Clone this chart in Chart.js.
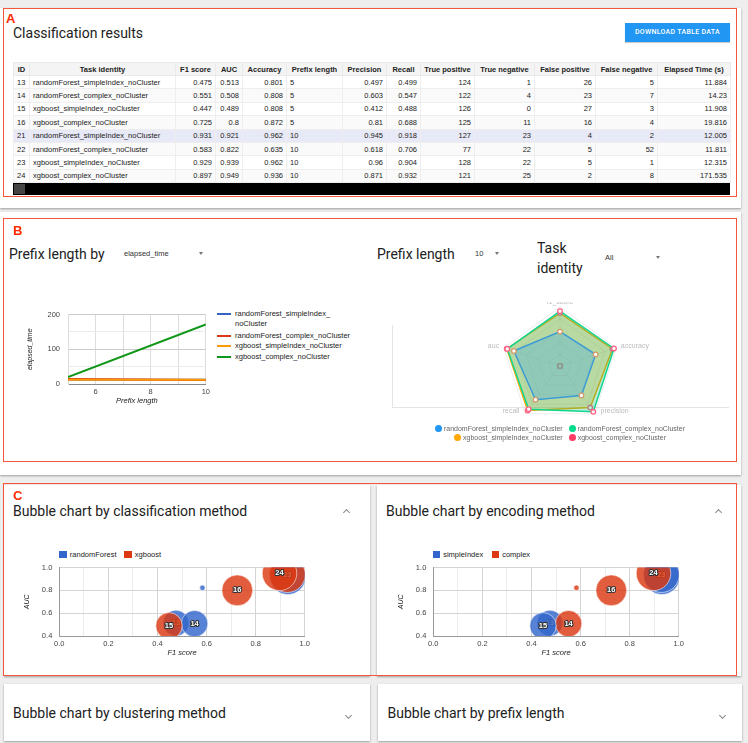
<!DOCTYPE html>
<html>
<head>
<meta charset="utf-8">
<script src="https://cdn.jsdelivr.net/npm/chart.js@4.4.1/dist/chart.umd.min.js"></script>
<style>
  html, body { margin: 0; padding: 0; }
  body { width: 748px; height: 743px; background: #eeeeee; position: relative; overflow: hidden; font-family: Roboto, Arial, sans-serif; }
  .card { position: absolute; background: #fff; box-shadow: 0 1px 2px rgba(0, 0, 0, .35); }
  .mark { position: absolute; border: 1.5px solid #f4563a; box-sizing: border-box; pointer-events: none; z-index: 5; }
  .tag { position: absolute; color: #ff2a00; font: bold 13px Arial, sans-serif; line-height: 1; z-index: 6; }
  .title { position: absolute; font-size: 14px; color: #212121; white-space: nowrap; line-height: 1; }
  .sel { position: absolute; font: 7.5px Arial, sans-serif; color: #333; line-height: 1; white-space: nowrap; }
  .caret { position: absolute; width: 0; height: 0; border-left: 2.5px solid transparent; border-right: 2.5px solid transparent; border-top: 3px solid #777; }
  .chev { position: absolute; width: 4px; height: 4px; border-left: 1px solid #888; border-top: 1px solid #888; }
  .up { transform: rotate(45deg); }
  .down { transform: rotate(225deg); }
  .btn { position: absolute; left: 625px; top: 23px; width: 105px; height: 19px; background: #2196f3; color: #fff; font: 500 7px Roboto, Arial, sans-serif; letter-spacing: .3px; line-height: 19px; text-align: center; box-shadow: 0 1px 1px rgba(0,0,0,.2); }
  #tbl { position: absolute; left: 13px; top: 62px; width: 717px; border-collapse: collapse; table-layout: fixed; font: 7.5px Arial, sans-serif; color: #222; }
  #tbl th { background: #f4f4f4; font-weight: bold; text-align: center; padding: 0; border: 1px solid #eaeaea; white-space: nowrap; }
  #tbl td { padding: 0 3px; text-align: right; border: 1px solid #eeeeee; white-space: nowrap; overflow: hidden; }
  #tbl tr.head { height: 13px; }
  #tbl tr.row { height: 13.4px; background: #fff; }
  #tbl tr.alt { background: #fafafa; }
  #tbl tr.pick { background: #e8e9f6; }
  #tbl td.l { text-align: left; }
  .box { position: absolute; }
  .lg { position: absolute; font: 7.5px Arial, sans-serif; color: #222; line-height: 1; white-space: nowrap; }
  #radarLegend { position: absolute; left: 392px; top: 425px; width: 336px; font: 7px Arial, sans-serif; color: #666; text-align: center; line-height: 8.7px; }
  #radarLegend span.it { display: inline-block; margin: 0 3px; white-space: nowrap; }
  #radarLegend span.dot { display: inline-block; width: 7px; height: 7px; border-radius: 50%; margin-right: 2px; vertical-align: -1px; }
</style>
</head>
<body>

<!-- A -->
<div class="card" style="left:0;top:8px;width:741px;height:200px"></div>
<div class="title" style="left:13px;top:25.5px">Classification results</div>
<div class="btn">DOWNLOAD TABLE DATA</div>
<table id="tbl"></table>
<div class="box" style="left:13px;top:183px;width:717px;height:12px;background:#000"></div>
<div class="box" style="left:14px;top:184px;width:11px;height:10px;background:#444"></div>
<div class="mark" style="left:3px;top:8px;width:734px;height:189px"></div>
<div class="tag" style="left:6px;top:12px">A</div>

<!-- B -->
<div class="card" style="left:0;top:212px;width:741px;height:263px"></div>
<div class="title" style="left:9px;top:247px">Prefix length by</div>
<div class="sel" style="left:124px;top:250px">elapsed_time</div>
<div class="caret" style="left:199px;top:252px"></div>
<div class="box" style="left:18px;top:302px;width:195px;height:108px"><canvas id="lineChart"></canvas></div>
<div id="lineLegend"></div>

<div class="title" style="left:377px;top:247px">Prefix length</div>
<div class="sel" style="left:475px;top:250px">10</div>
<div class="caret" style="left:495px;top:252px"></div>
<div class="title" style="left:537px;top:240.5px">Task</div>
<div class="title" style="left:537px;top:260.5px">identity</div>
<div class="sel" style="left:605px;top:253.5px">All</div>
<div class="caret" style="left:656px;top:255.5px"></div>
<div class="box" style="left:392px;top:325px;width:336px;height:82px;border-left:1.5px solid #e4e4e4;border-bottom:1.5px solid #e4e4e4"></div>
<div class="box" style="left:392px;top:302px;width:336px;height:134px;overflow:hidden">
  <div class="box" style="left:0;top:-7px;width:336px;height:142px"><canvas id="radarChart"></canvas></div>
</div>
<div id="radarLegend"></div>
<div class="mark" style="left:3px;top:218px;width:734px;height:244px"></div>
<div class="tag" style="left:13px;top:224px">B</div>

<!-- C -->
<div class="card" style="left:4px;top:485px;width:366px;height:191px"></div>
<div class="card" style="left:377px;top:485px;width:364px;height:191px"></div>
<div class="title" style="left:13px;top:504px">Bubble chart by classification method</div>
<div class="chev up" style="left:344px;top:510px"></div>
<div class="title" style="left:386px;top:504px">Bubble chart by encoding method</div>
<div class="chev up" style="left:716px;top:510px"></div>
<div id="legend1"></div>
<div id="legend2"></div>
<div class="box" style="left:20px;top:556px;width:293px;height:102px"><canvas id="bubble1"></canvas></div>
<div class="box" style="left:394px;top:556px;width:293px;height:102px"><canvas id="bubble2"></canvas></div>
<div class="mark" style="left:3px;top:483px;width:734px;height:193px"></div>
<div class="tag" style="left:13px;top:488.5px">C</div>

<!-- bottom cards -->
<div class="card" style="left:4px;top:684px;width:366px;height:57px"></div>
<div class="card" style="left:378px;top:684px;width:364px;height:57px"></div>
<div class="title" style="left:13px;top:705.5px">Bubble chart by clustering method</div>
<div class="chev down" style="left:346px;top:713px"></div>
<div class="title" style="left:387.5px;top:705.5px">Bubble chart by prefix length</div>
<div class="chev down" style="left:720px;top:713px"></div>

<script>
// 表格資料
const ids = [13, 14, 15, 16, 21, 22, 23, 24];
const tasks = [
  "randomForest_simpleIndex_noCluster", "randomForest_complex_noCluster",
  "xgboost_simpleIndex_noCluster", "xgboost_complex_noCluster",
  "randomForest_simpleIndex_noCluster", "randomForest_complex_noCluster",
  "xgboost_simpleIndex_noCluster", "xgboost_complex_noCluster"
];
const f1 = [0.475, 0.551, 0.447, 0.725, 0.931, 0.583, 0.929, 0.897];
const auc = [0.513, 0.508, 0.489, 0.8, 0.921, 0.822, 0.939, 0.949];
const accuracy = [0.801, 0.808, 0.808, 0.872, 0.962, 0.635, 0.962, 0.936];
const prefixLen = [5, 5, 5, 5, 10, 10, 10, 10];
const precision = [0.497, 0.603, 0.412, 0.81, 0.945, 0.618, 0.96, 0.871];
const recall = [0.499, 0.547, 0.488, 0.688, 0.918, 0.706, 0.904, 0.932];
const truePos = [124, 122, 126, 125, 127, 77, 128, 121];
const trueNeg = [1, 4, 0, 11, 23, 22, 22, 25];
const falsePos = [26, 23, 27, 16, 4, 5, 5, 2];
const falseNeg = [5, 7, 3, 4, 2, 52, 1, 8];
const elapsed = [11.884, 14.23, 11.908, 19.816, 12.005, 11.811, 12.315, 171.535];

const headers = ["ID", "Task identity", "F1 score", "AUC", "Accuracy", "Prefix length", "Precision", "Recall",
  "True positive", "True negative", "False positive", "False negative", "Elapsed Time (s)"];
const colWidths = [16, 146, 40, 27, 44, 56, 44, 34, 54, 60, 61, 62, 73];

// 雷達圖資料 (prefix length 10)
const radarAxes = ["f1_score", "accuracy", "precision", "recall", "auc"];
const radarNames = ["randomForest_simpleIndex_noCluster", "randomForest_complex_noCluster",
  "xgboost_simpleIndex_noCluster", "xgboost_complex_noCluster"];
const radarRfSimple = [0.583, 0.635, 0.618, 0.706, 0.822];
const radarRfComplex = [0.929, 0.962, 0.96, 0.904, 0.939];
const radarXgbSimple = [0.897, 0.936, 0.871, 0.932, 0.949];
const radarXgbComplex = [0, 0, 0, 0, 0];

// tick labels
const lineYTicks = [0, 100, 200];
const lineXTicks = [6, 8, 10];
const bubbleXTicks = [0, 0.2, 0.4, 0.6, 0.8, 1.0];
const bubbleYTicks = [0.4, 0.6, 0.8, 1.0];

Chart.defaults.font.family = 'Arial, "Liberation Sans", sans-serif';
Chart.defaults.animation = false;

// table
let html = `<colgroup>${colWidths.map(w => `<col style="width:${w}px">`).join("")}</colgroup>`;
html += `<tr class="head">${headers.map(h => `<th>${h}</th>`).join("")}</tr>`;
for (let i = 0; i < ids.length; i++) {
  const cls = "row" + (i % 2 ? " alt" : "") + (ids[i] === 21 ? " pick" : "");
  html += `
  <tr class="${cls}">
    <td class="l">${ids[i]}</td>
    <td class="l">${tasks[i]}</td>
    <td>${f1[i]}</td>
    <td>${auc[i]}</td>
    <td>${accuracy[i]}</td>
    <td class="l">${prefixLen[i]}</td>
    <td>${precision[i]}</td>
    <td>${recall[i]}</td>
    <td>${truePos[i]}</td>
    <td>${trueNeg[i]}</td>
    <td>${falsePos[i]}</td>
    <td>${falseNeg[i]}</td>
    <td>${elapsed[i]}</td>
  </tr>`;
}
document.getElementById("tbl").innerHTML = html;

// line chart: prefix length by elapsed_time
const lineNames = ["randomForest_simpleIndex_noCluster", "randomForest_complex_noCluster",
  "xgboost_simpleIndex_noCluster", "xgboost_complex_noCluster"];
const lineColors = ["#3366cc", "#dc3912", "#ff9900", "#109618"];
const lineSets = lineNames.map((name, k) => {
  const pts = [];
  for (let i = 0; i < tasks.length; i++) {
    if (tasks[i] === name) pts.push({ x: prefixLen[i], y: elapsed[i] });
  }
  // 後面的 series 畫在上層
  return { label: name, data: pts, order: lineNames.length - k, borderColor: lineColors[k], borderWidth: 2, pointRadius: 0, fill: false };
});

new Chart(document.getElementById("lineChart"), {
  type: "line",
  data: { datasets: lineSets },
  options: {
    responsive: true, maintainAspectRatio: false,
    layout: { padding: { top: 10, right: 2 }, autoPadding: false },
    plugins: { legend: { display: false }, tooltip: { enabled: false } },
    scales: {
      x: {
        type: "linear", min: 5, max: 10,
        afterFit: s => { s.height = 26; },
        ticks: { stepSize: 1, padding: 3, color: "#444", font: { size: 7.5 },
          callback: v => lineXTicks.includes(v) ? v : "" },
        grid: { color: "#dddddd", drawTicks: false },
        border: { color: "#888888" },
        title: { display: true, text: "Prefix length", color: "#222", font: { size: 7.5, style: "italic" }, padding: { bottom: 5 } }
      },
      y: {
        min: 0, max: 200,
        afterFit: s => { s.width = 50; },
        ticks: { stepSize: 50, padding: 8, color: "#444", font: { size: 7.5 },
          callback: v => lineYTicks.includes(v) ? v : "" },
        grid: { color: c => c.tick.value % 100 === 0 ? "#cccccc" : "#ebebeb", drawTicks: false },
        border: { color: "#dddddd" },
        title: { display: true, text: "elapsed_time", color: "#222", font: { size: 7, style: "italic" }, padding: { top: 7.5 } }
      }
    }
  }
});

// line legend (google 風格, 右側)
const lineLegendPos = [314, 335.7, 346.3, 357.3];
let lg = "";
for (let k = 0; k < lineNames.length; k++) {
  const y = lineLegendPos[k];
  lg += `<i style="left:217px;top:${y - 1}px;width:14px;height:2px;background:${lineColors[k]};position:absolute"></i>`;
  const txt = k === 0 ? "randomForest_simpleIndex_<br>noCluster" : lineNames[k];
  lg += `<div class="lg" style="left:235px;top:${y - 4}px;line-height:10.3px;margin-top:-1px">${txt}</div>`;
}
document.getElementById("lineLegend").innerHTML = lg;

// radar chart
const radarColors = ["#3d9bd6", "#12d690", "#ffa500", "#ff5c7c"];
const radarDots = ["#2196f3", "#00dc8c", "#ffa800", "#ff3c64"];
const radarFills = ["rgba(54,162,235,0.3)", "rgba(0,190,120,0.28)", "rgba(255,170,0,0.3)", "rgba(255,99,132,0.2)"];
const radarPointColors = ["#d39b6c", "#ff6384", "#ff6384", "#ff6384"];
const radarSeries = [radarRfSimple, radarRfComplex, radarXgbSimple, radarXgbComplex];

// 軸名稱: 放在外圈旁邊
const radarAxisLabels = {
  id: "radarAxisLabels",
  afterDraw(chart) {
    const s = chart.scales.r, ctx = chart.ctx;
    ctx.save();
    ctx.font = "7px Arial";
    ctx.fillStyle = "#bbbbbb";
    ctx.textBaseline = "middle";
    chart.data.labels.forEach((lab, i) => {
      const p = s.getPointPosition(i, s.drawingArea + 5);
      const dx = p.x - s.xCenter;
      ctx.textAlign = Math.abs(dx) < 1 ? "center" : (dx > 0 ? "left" : "right");
      let x = p.x, y = p.y;
      if (p.y > s.yCenter + 1) { y -= 6.8; x += dx > 0 ? 3 : -3; }
      ctx.fillText(lab, x, y);
    });
    ctx.restore();
  }
};

new Chart(document.getElementById("radarChart"), {
  type: "radar",
  data: {
    labels: radarAxes,
    datasets: radarSeries.map((vals, k) => ({
      label: radarNames[k], data: vals,
      borderColor: radarColors[k], backgroundColor: radarFills[k], borderWidth: 1.5, fill: true,
      pointRadius: 2.3, pointBorderWidth: 1.3, pointBackgroundColor: "#fff", pointBorderColor: radarPointColors[k]
    }))
  },
  plugins: [radarAxisLabels],
  options: {
    responsive: true, maintainAspectRatio: false,
    layout: { padding: { top: 12, bottom: 12 }, autoPadding: false },
    plugins: { legend: { display: false }, tooltip: { enabled: false } },
    scales: {
      r: {
        min: 0, max: 1,
        ticks: { display: false, stepSize: 0.2 },
        grid: { color: "rgba(0,0,0,0.08)" },
        angleLines: { color: "rgba(0,0,0,0.08)" },
        pointLabels: { display: false }
      }
    }
  }
});

let rl = "";
for (let k = 0; k < radarNames.length; k++) {
  if (k === 2) rl += "<br>";
  rl += `<span class="it"><span class="dot" style="background:${radarDots[k]}"></span>${radarNames[k]}</span>`;
}
document.getElementById("radarLegend").innerHTML = rl;

// bubble charts
const accMin = Math.min(...accuracy), accMax = Math.max(...accuracy);
const rMin = 2.7, rMax = 18;
// bubble 面積與 accuracy 成正比
const bubbleR = a => Math.sqrt(rMin * rMin + (rMax * rMax - rMin * rMin) * (a - accMin) / (accMax - accMin));

const idLabels = {
  id: "idLabels",
  afterDatasetDraw(chart, args) {
    const ctx = chart.ctx;
    const ds = chart.data.datasets[args.index];
    ctx.save();
    ctx.font = "bold 7.5px Arial";
    ctx.textAlign = "center";
    ctx.textBaseline = "middle";
    ctx.lineJoin = "round";
    ctx.lineWidth = 2;
    ctx.strokeStyle = "#333";
    ctx.fillStyle = "#fff";
    args.meta.data.forEach((el, j) => {
      if (ds.data[j].r < 8) return; // 太小的泡泡不放文字
      ctx.strokeText(ds.idText, el.x, el.y);
      ctx.fillText(ds.idText, el.x, el.y);
    });
    ctx.restore();
  }
};

function bubbleChart(canvasId, groupOf, groups) {
  const colors = ["rgba(51,102,204,0.82)", "rgba(220,57,18,0.82)"];
  const sets = ids.map((id, i) => ({
    label: String(id),
    idText: String(id),
    order: ids.length - i,
    data: [{ x: f1[i], y: auc[i], r: bubbleR(accuracy[i]) }],
    backgroundColor: colors[groups.indexOf(groupOf(tasks[i]))],
    borderColor: "rgba(255,255,255,0.55)",
    borderWidth: 1
  }));
  new Chart(document.getElementById(canvasId), {
    type: "bubble",
    data: { datasets: sets },
    plugins: [idLabels],
    options: {
      responsive: true, maintainAspectRatio: false,
      layout: { padding: { top: 8, right: 2 }, autoPadding: false },
      plugins: { legend: { display: false }, tooltip: { enabled: false } },
      scales: {
        x: {
          min: 0, max: 1,
          afterFit: s => { s.height = 22; },
          ticks: { stepSize: 0.1, padding: 3, color: "#444", font: { size: 7.5 },
            callback: v => bubbleXTicks.some(t => Math.abs(t - v) < 1e-6) ? v.toFixed(1) : "" },
          grid: { color: c => Math.round(c.tick.value * 10) % 2 === 0 ? "#d4d4d4" : "#ececec", drawTicks: false },
          border: { color: "#999999" },
          title: { display: true, text: "F1 score", color: "#222", font: { size: 7.5, style: "italic" }, padding: { bottom: 0.5 } }
        },
        y: {
          min: 0.4, max: 1.0,
          afterFit: s => { s.width = 39.3; },
          ticks: { stepSize: 0.1, padding: 7, color: "#444", font: { size: 7.5 },
            callback: v => bubbleYTicks.some(t => Math.abs(t - v) < 1e-6) ? v.toFixed(1) : "" },
          grid: { color: c => Math.round(c.tick.value * 10) % 2 === 0 ? "#d4d4d4" : "#ececec", drawTicks: false },
          border: { color: "#999999" },
          title: { display: true, text: "AUC", color: "#222", font: { size: 7, style: "italic" }, padding: { top: 3 } }
        }
      }
    }
  });
}

const classGroups = ["randomForest", "xgboost"];
const encGroups = ["simpleIndex", "complex"];
bubbleChart("bubble1", t => t.split("_")[0], classGroups);
bubbleChart("bubble2", t => t.split("_")[1], encGroups);

function bubbleLegend(elId, names, xs) {
  const sq = ["#3366cc", "#dc3912"];
  let h = "";
  names.forEach((n, k) => {
    h += `<i style="position:absolute;left:${xs[k]}px;top:551px;width:7.5px;height:7px;background:${sq[k]}"></i>`;
    h += `<div class="lg" style="left:${xs[k] + 10.5}px;top:550.5px">${n}</div>`;
  });
  document.getElementById(elId).innerHTML = h;
}
bubbleLegend("legend1", classGroups, [59.3, 124.3]);
bubbleLegend("legend2", encGroups, [432.7, 491.7]);
</script>
</body>
</html>
